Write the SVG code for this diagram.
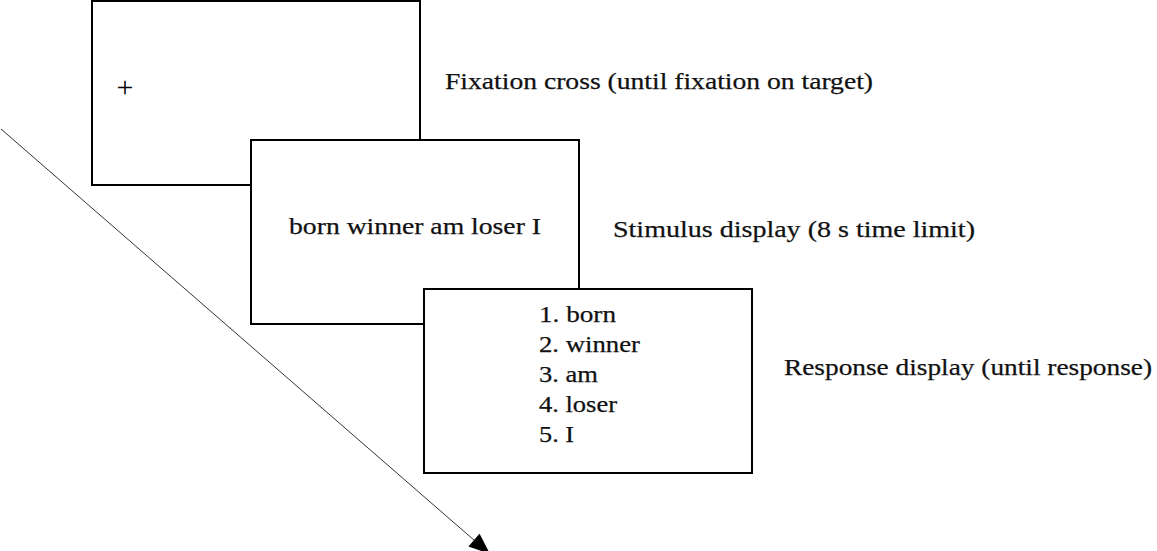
<svg xmlns="http://www.w3.org/2000/svg" width="1157" height="551" viewBox="0 0 1157 551">
<style>
.box{fill:#fff;stroke:#000;stroke-width:2}
.t{font-family:"Liberation Serif","Times New Roman",serif;font-size:24px;fill:#111;stroke:#111;stroke-width:0.25}
.conn{stroke:#333;stroke-width:1;fill:none}
</style>
<defs>
<marker id="ah" viewBox="0 0 20 16" refX="20" refY="8" markerWidth="22" markerHeight="17" markerUnits="userSpaceOnUse" orient="auto">
<path d="M0,0 L20,8 L0,16 z" fill="#000"/>
</marker>
</defs>
<g id="connectors">
<line class="conn" x1="1" y1="129" x2="490" y2="554" marker-end="url(#ah)"/>
</g>
<g id="fixation">
<rect class="box" x="92" y="1" width="328" height="184"/>
<text class="t" x="125" y="97" text-anchor="middle" style="font-size:30px;fill:#000;stroke:none">+</text>
</g>
<g id="stimulus">
<rect class="box" x="251" y="140" width="328" height="184"/>
<text class="t" x="289" y="234" textLength="252" lengthAdjust="spacingAndGlyphs">born winner am loser I</text>
</g>
<g id="response">
<rect class="box" x="424" y="289" width="328" height="184"/>
<text class="t" x="539" y="322" textLength="77" lengthAdjust="spacingAndGlyphs">1. born</text>
<text class="t" x="539" y="352" textLength="101" lengthAdjust="spacingAndGlyphs">2. winner</text>
<text class="t" x="539" y="382" textLength="59" lengthAdjust="spacingAndGlyphs">3. am</text>
<text class="t" x="539" y="412" textLength="78" lengthAdjust="spacingAndGlyphs">4. loser</text>
<text class="t" x="539" y="442" textLength="35" lengthAdjust="spacingAndGlyphs">5. I</text>
</g>
<g id="labels">
<text class="t" x="445" y="89" textLength="428" lengthAdjust="spacingAndGlyphs">Fixation cross (until fixation on target)</text>
<text class="t" x="613" y="237" textLength="362" lengthAdjust="spacingAndGlyphs">Stimulus display (8 s time limit)</text>
<text class="t" x="784" y="375" textLength="368" lengthAdjust="spacingAndGlyphs">Response display (until response)</text>
</g>
</svg>
